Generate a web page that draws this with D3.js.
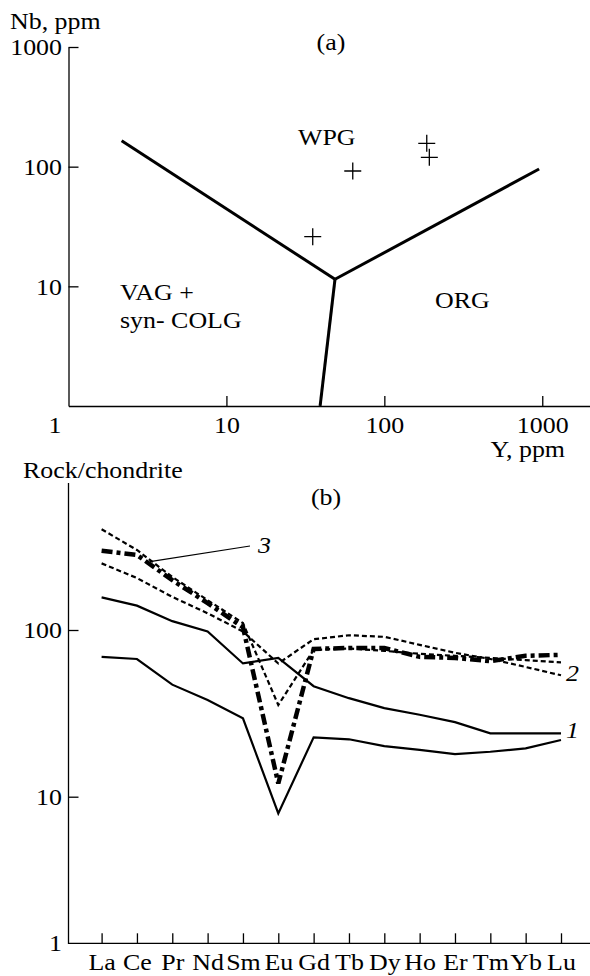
<!DOCTYPE html>
<html>
<head>
<meta charset="utf-8">
<script src="https://cdn.jsdelivr.net/npm/d3@7"></script>
<style>
  html, body { margin: 0; padding: 0; background: #fff; }
  svg text { font-family: 'Liberation Serif', 'Times New Roman', serif; font-size: 24px; fill: #000; }
</style>
</head>
<body>
<svg id="chart" width="590" height="976"></svg>
<script>
// (a) Nb-Y discrimination diagram
const sampleY = [35.2, 63.1, 185.6, 192.7];
const sampleNb = [26.0, 92.0, 156.7, 119.7];
const boundaryY = [[2.17, 48.7], [48.7, 955], [48.7, 39.2]];
const boundaryNb = [[164.8, 11.45], [11.45, 95.6], [11.45, 1]];
const ticksA = [1, 10, 100, 1000];
const ticksANb = [10, 100, 1000];

// (b) chondrite-normalised REE
const ree = ['La', 'Ce', 'Pr', 'Nd', 'Sm', 'Eu', 'Gd', 'Tb', 'Dy', 'Ho', 'Er', 'Tm', 'Yb', 'Lu'];
const solidUpper = [157, 140, 113, 98, 63, 68, 46, 39, 34, 31, 28, 24, 24, 24];
const solidLower = [69, 67, 47, 38, 29.5, 7.7, 22.7, 22.1, 20.1, 19.1, 18.0, 18.6, 19.5, 21.9];
const dashedUpper = [402, 302, 208, 151, 110, 35.5, 76, 77.5, 75, 72, 70, 68, 66, 64];
const dashedLower = [251, 205, 158, 126, 98, 63, 88, 93, 91, 81.5, 73, 67, 60, 53.5];
const dashDot = [299, 282, 199, 145, 104, 12, 77, 78, 78, 69, 68, 65, 70, 71];
const ticksB = [1, 10, 100];

const svg = d3.select('#chart');

function label(x, y, str, anchor = 'start', italic = false) {
  svg.append('text')
    .attr('transform', `translate(${x},${y}) scale(1.08,1)`)
    .attr('text-anchor', anchor)
    .style('font-style', italic ? 'italic' : null)
    .text(str);
}

function styleAxis(g) {
  g.selectAll('line, path').attr('stroke', '#000').attr('stroke-width', 1.3);
  g.selectAll('text')
    .attr('fill', '#000')
    .style('font-family', "'Liberation Serif', 'Times New Roman', serif")
    .style('font-size', '24px')
    .attr('transform', 'scale(1.08,1)');
}

// ---------- panel (a) ----------
const xA = d3.scaleLog().domain([1, 2000]).range([68.5, 589.8]);
const yA = d3.scaleLog().domain([1, 1000]).range([406, 47]);

const axA = svg.append('g').attr('transform', `translate(0,${yA(1)})`)
  .call(d3.axisBottom(xA).tickValues(ticksA).tickFormat(d3.format('d'))
    .tickSizeInner(-10).tickSizeOuter(0).tickPadding(10));
styleAxis(axA);
axA.selectAll('.tick').filter(d => d === 1).select('line').remove();
axA.selectAll('.tick').filter(d => d === 1).select('text').attr('x', -13);

const ayA = svg.append('g').attr('transform', `translate(${xA(1)},0)`)
  .call(d3.axisLeft(yA).tickValues(ticksANb).tickFormat(d3.format('d'))
    .tickSizeInner(-10).tickSizeOuter(0).tickPadding(6));
styleAxis(ayA);

const lineA = d3.line().x(d => xA(d[0])).y(d => yA(d[1]));
boundaryY.forEach((ys, i) => {
  svg.append('path')
    .attr('d', lineA(ys.map((y, j) => [y, boundaryNb[i][j]])))
    .attr('fill', 'none').attr('stroke', '#000').attr('stroke-width', 3);
});

svg.append('g').selectAll('path')
  .data(sampleY.map((y, i) => [y, sampleNb[i]]))
  .join('path')
  .attr('transform', d => `translate(${xA(d[0])},${yA(d[1])})`)
  .attr('d', 'M-8.5,0H8.5M0,-8.5V8.5')
  .attr('stroke', '#000').attr('stroke-width', 1.3);

label(10, 29, 'Nb, ppm');
label(331, 50, '(a)', 'middle');
label(298, 145, 'WPG');
label(120, 300, 'VAG +');
label(120, 328, 'syn- COLG');
label(435, 308, 'ORG');
label(565, 457, 'Y, ppm', 'end');

// ---------- panel (b) ----------
const xB = d3.scalePoint().domain(ree).range([101.6, 561]);
const yB = d3.scaleLog().domain([1, 10, 100]).range([943.3, 796.7, 630]);

svg.append('path')
  .attr('d', `M${xA(1)},483V${yB(1)}H590`)
  .attr('fill', 'none').attr('stroke', '#000').attr('stroke-width', 1.3);

const axB = svg.append('g').attr('transform', `translate(0,${yB(1)})`)
  .call(d3.axisBottom(xB).tickSizeInner(-10).tickSizeOuter(0).tickPadding(10));
styleAxis(axB);
axB.select('.domain').remove();

const ayB = svg.append('g').attr('transform', `translate(${xA(1)},0)`)
  .call(d3.axisLeft(yB).tickValues(ticksB).tickFormat(d3.format('d'))
    .tickSizeInner(-10).tickSizeOuter(0).tickPadding(6));
styleAxis(ayB);
ayB.select('.domain').remove();
ayB.selectAll('.tick').filter(d => d === 1).select('line').remove();

const lineB = d3.line().x((d, i) => xB(ree[i])).y(d => yB(d));
const series = [
  { values: solidUpper, width: 2.2, dash: null },
  { values: solidLower, width: 2.2, dash: null },
  { values: dashedUpper, width: 2.2, dash: '5,3' },
  { values: dashedLower, width: 2.2, dash: '5,3' },
  { values: dashDot, width: 4.5, dash: '11,4,4,4' },
];
series.forEach(s => {
  svg.append('path')
    .attr('d', lineB(s.values))
    .attr('fill', 'none').attr('stroke', '#000')
    .attr('stroke-width', s.width)
    .attr('stroke-dasharray', s.dash)
    .attr('stroke-linejoin', 'miter');
});

// leader for curve 3
svg.append('line')
  .attr('x1', xB('Ce') + 13).attr('y1', yB(257))
  .attr('x2', 250).attr('y2', 546)
  .attr('stroke', '#000').attr('stroke-width', 1.2);

label(326, 505, '(b)', 'middle');
label(23, 478, 'Rock/chondrite');
label(258, 553, '3', 'start', true);
label(xB('Lu') + 5, 681, '2', 'start', true);
label(xB('Lu') + 5, 738, '1', 'start', true);
</script>
</body>
</html>
